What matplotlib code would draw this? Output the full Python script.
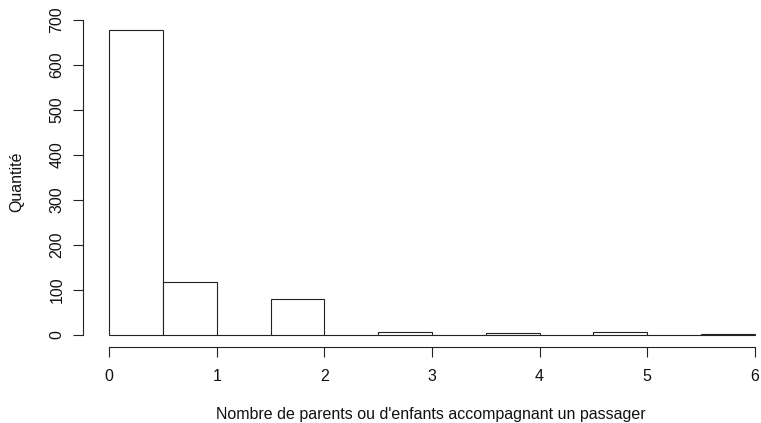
import numpy as np
import matplotlib
matplotlib.use("Agg")
import matplotlib.pyplot as plt

matplotlib.rcParams.update({
    "font.family": "Liberation Sans",
    "font.size": 11.5,
})

# Histogram of Parch (R-style right-closed bins of width 0.5)
breaks = [0, 0.5, 1, 1.5, 2, 2.5, 3, 3.5, 4, 4.5, 5, 5.5, 6]
counts = [678, 118, 0, 80, 0, 5, 0, 4, 0, 5, 0, 1]
x_ticks = [0, 1, 2, 3, 4, 5, 6]
y_ticks = [0, 100, 200, 300, 400, 500, 600, 700]

W, H = 761, 423
fig = plt.figure(figsize=(W / 100, H / 100), dpi=100)

# plot region in pixels (R keeps 4% padding around the data range)
left_px, right_px = 83.3, 761
top_px, bot_px = 17.7, 346.9
ax = fig.add_axes([left_px / W, 1 - bot_px / H,
                   (right_px - left_px) / W, (bot_px - top_px) / H])

line_col = "#222222"
txt_col = "#111111"
edges = np.array(breaks)
ax.bar(edges[:-1], counts, width=np.diff(edges), align="edge",
       facecolor="white", edgecolor=line_col, linewidth=0.8)

ax.set_xlim(-0.24, 6.057)
ax.set_ylim(-27.12, 705.12)

for s in ["top", "right"]:
    ax.spines[s].set_visible(False)
ax.spines["left"].set_bounds(0, 700)
ax.spines["bottom"].set_bounds(0, 6)
for s in ["left", "bottom"]:
    ax.spines[s].set_color(line_col)
    ax.spines[s].set_linewidth(0.8)

ax.set_xticks(x_ticks)
ax.set_yticks(y_ticks)
ax.set_yticklabels([str(v) for v in y_ticks], rotation=90, va="center")
ax.tick_params(axis="both", direction="out", length=7.2, width=0.8,
               color=line_col, labelcolor=txt_col, labelsize=11.5)
ax.tick_params(axis="x", pad=9)
ax.tick_params(axis="y", pad=6.5)

fig.text(430.5 / W, 1 - 419 / H,
         "Nombre de parents ou d'enfants accompagnant un passager",
         ha="center", va="baseline", fontsize=11.5, color=txt_col)
fig.text(16.7 / W, 1 - 182 / H, "Quantité", rotation=90,
         ha="center", va="center", fontsize=11.5, color=txt_col)

fig.savefig("out.png", dpi=100)
